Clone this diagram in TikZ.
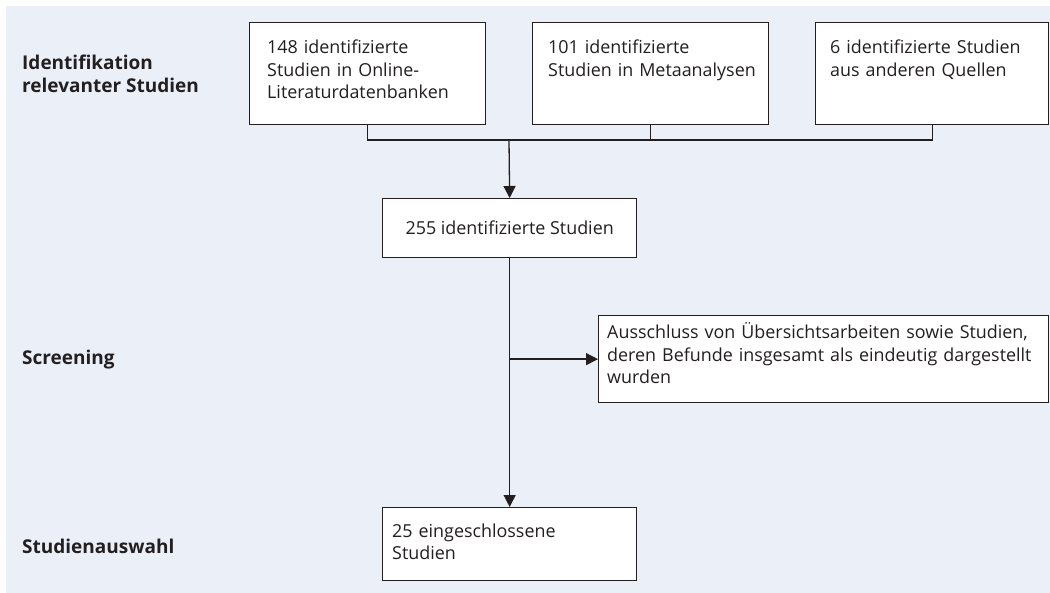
\documentclass[tikz,border=0pt]{standalone}
\usepackage{fontspec}
\setmainfont{Open Sans}
\usetikzlibrary{arrows.meta}
\definecolor{panel}{RGB}{235,240,248}
\definecolor{ink}{RGB}{35,31,32}
\begin{document}
\begin{tikzpicture}[x=1pt,y=-1pt,
  box/.style={draw=ink,line width=1.3pt,fill=white,inner sep=0pt,anchor=north west},
  boxtext/.style={anchor=base west,inner sep=0pt,align=left,text width=#1,
    font=\fontsize{17.9}{22.5}\selectfont,text=ink},
  phase/.style={anchor=west,inner sep=0pt,align=left,
    font=\fontsize{19}{22.5}\selectfont\bfseries,text=ink},
  conn/.style={draw=ink,line width=1.3pt},
  arr/.style={conn,-{Triangle[length=12pt,width=12pt]}}]
\useasboundingbox (0,0) rectangle (1050,593);
\fill[white] (0,0) rectangle (1050,593);
\fill[panel] (6,6) rectangle (1050,593);

% phase labels
\node[phase] (p1) at (22,74) {Identifikation\\relevanter Studien};
\node[phase] (p2) at (22,360) {Screening};
\node[phase] (p3) at (22,546) {Studienauswahl};

% boxes
\node[box,minimum width=236pt,minimum height=102pt] (b1) at (249,22) {};
\node[box,minimum width=236pt,minimum height=102pt] (b2) at (532,22) {};
\node[box,minimum width=233pt,minimum height=102pt] (b3) at (815,22) {};
\node[box,minimum width=254pt,minimum height=59pt] (b255) at (382,198) {};
\node[box,minimum width=450pt,minimum height=87pt] (ex) at (598,315) {};
\node[box,minimum width=254pt,minimum height=73pt] (b25) at (382,507) {};

% texts
\node[boxtext=210pt] (t1) at (267,54) {148 identifizierte\\Studien in Online-\\Literaturdatenbanken};
\node[boxtext=210pt] (t2) at (548,54) {101 identifizierte\\Studien in Metaanalysen};
\node[boxtext=210pt] (t3) at (830,54) {6 identifizierte Studien\\aus anderen Quellen};
\node[inner sep=0pt,font=\fontsize{17.9}{22.5}\selectfont,text=ink] (t255) at (b255.center) {255 identifizierte Studien};
\node[boxtext=430pt] (tex) at (607,339) {Ausschluss von Übersichtsarbeiten sowie Studien,\\deren Befunde insgesamt als eindeutig dargestellt\\wurden};
\node[boxtext=230pt] (t25) at (392,537) {25 eingeschlossene\\Studien};

% connectors
\coordinate (bus) at (509,140);
\draw[conn] (b1.south) -- (b1.south |- bus) -- (b3.south |- bus) -- (b3.south);
\draw[conn] (b2.south) -- (b2.south |- bus);
\draw[arr] (bus) -- (b255.north);
\draw[arr] (b255.south) -- (b25.north);
\coordinate (br) at (b255.south |- ex.west);
\draw[arr] (br) -- (ex.west);
\end{tikzpicture}
\end{document}
